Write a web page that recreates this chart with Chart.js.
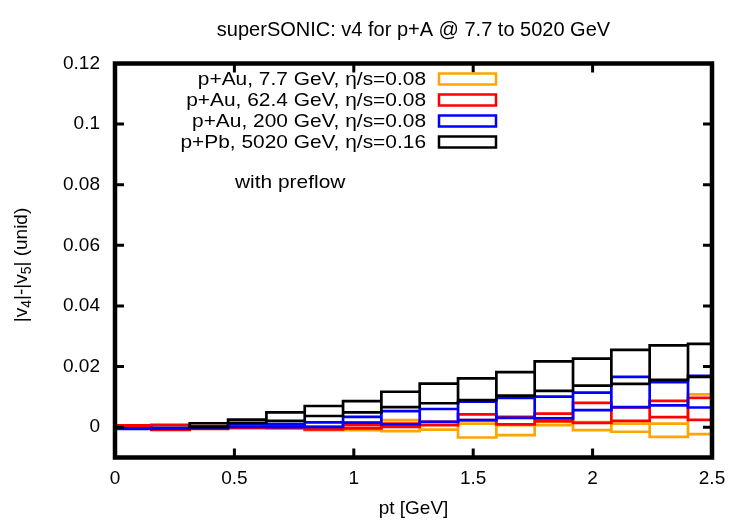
<!DOCTYPE html>
<html>
<head>
<meta charset="utf-8">
<script src="https://cdn.jsdelivr.net/npm/chart.js@4"></script>
<style>
body{margin:0;background:#fff}
canvas{display:block}
</style>
</head>
<body>
<canvas id="v4Chart" width="750" height="525"></canvas>
<script>

/* =====================================================
DATA
===================================================== */

// pt bin edges [GeV]
const binEdges=[-0.008,0.1525,0.313,0.4735,0.634,0.7945,0.955,1.1155,1.276,1.4365,1.597,1.7575,1.918,2.0785,2.239,2.3995,2.56]

const seriesLabels=[
"p+Au, 7.7 GeV, η/s=0.08",
"p+Au, 62.4 GeV, η/s=0.08",
"p+Au, 200 GeV, η/s=0.08",
"p+Pb, 5020 GeV, η/s=0.16"
]
const seriesColors=["#ffa500","#ff0000","#0000ff","#000000"]

// lower / upper edge of each box
const auLow77=[-0.0002,-0.0003,-0.0004,-0.0003,-0.0005,-0.0010,-0.0010,-0.0013,-0.0008,-0.0034,-0.0026,0.0007,-0.0010,-0.0015,-0.0032,-0.0023]
const auHigh77=[0.0002,0.0003,0.0002,0.0002,0.0002,0.0000,0.0015,0.0023,0.0016,0.0012,0.0007,0.0018,0.0017,0.0012,0.0012,0.0108]

const auLow624=[0.0003,-0.0009,-0.0006,-0.0002,-0.0002,-0.0007,-0.0004,0.0001,0.0007,0.0023,0.0009,0.0020,0.0014,0.0021,0.0033,0.0024]
const auHigh624=[0.0006,0.0008,0.0004,0.0003,0.0003,0.0000,0.0007,0.0012,0.0018,0.0042,0.0034,0.0045,0.0080,0.0065,0.0087,0.0097]

const auLow200=[-0.0006,-0.0005,-0.0003,0.0001,0.0000,0.0001,0.0015,0.0009,0.0018,0.0023,0.0031,0.0029,0.0056,0.0066,0.0072,0.0065]
const auHigh200=[-0.0004,-0.0002,0.0002,0.0012,0.0010,0.0016,0.0034,0.0053,0.0060,0.0084,0.0097,0.0101,0.0114,0.0166,0.0149,0.0169]

const pbLow5020=[null,null,0.0000,0.0014,0.0021,0.0037,0.0049,0.0066,0.0079,0.0089,0.0104,0.0120,0.0137,0.0143,0.0156,0.0166]
const pbHigh5020=[null,null,0.0013,0.0025,0.0049,0.0070,0.0086,0.0117,0.0144,0.0161,0.0182,0.0217,0.0226,0.0255,0.0270,0.0275]

const xTicks=[0,0.5,1,1.5,2,2.5]
const xTickLabels=["0","0.5","1","1.5","2","2.5"]
const yTicks=[0,0.02,0.04,0.06,0.08,0.1,0.12]
const yTickLabels=["0","0.02","0.04","0.06","0.08","0.1","0.12"]

const FONT="'Liberation Sans', Arial, sans-serif"
const STRETCH=1.1


/* =====================================================
BOXES -> LINE POINTS
===================================================== */

function boxPoints(low,high){

const pts=[]

low.forEach((lo,i)=>{

const hi=high[i]
if(lo===null || hi===null) return

const x0=binEdges[i]
const x1=binEdges[i+1]

pts.push({x:x0,y:lo},{x:x1,y:lo},{x:x1,y:hi},{x:x0,y:hi},{x:x0,y:lo})
pts.push({x:null,y:null})

})

return pts

}

const lows=[auLow77,auLow624,auLow200,pbLow5020]
const highs=[auHigh77,auHigh624,auHigh200,pbHigh5020]

const datasets=seriesLabels.map((label,i)=>({
label:label,
data:boxPoints(lows[i],highs[i]),
borderColor:seriesColors[i],
backgroundColor:seriesColors[i],
borderWidth:2.7,
borderJoinStyle:"miter",
borderCapStyle:"square",
pointRadius:0,
showLine:true,
fill:false,
tension:0,
order:4-i
}))


/* =====================================================
FRAME, TICKS, LEGEND, LABELS
===================================================== */

// text a bit wider than the font, like the stretched reference
function wideText(ctx,text,x,y,align){
const w=ctx.measureText(text).width*STRETCH
let left=x
if(align==="right") left=x-w
else if(align==="center") left=x-w/2
ctx.save()
ctx.translate(left,y)
ctx.scale(STRETCH,1)
ctx.textAlign="left"
ctx.fillText(text,0,0)
ctx.restore()
}

const framePlugin={
id:"frame",
afterDatasetsDraw(chart){

const {ctx,chartArea:a,scales}=chart
const len=9

ctx.save()
ctx.strokeStyle="#000"
ctx.lineWidth=3

xTicks.forEach(v=>{
const px=scales.x.getPixelForValue(v)
ctx.beginPath()
ctx.moveTo(px,a.bottom);ctx.lineTo(px,a.bottom-len)
ctx.moveTo(px,a.top);ctx.lineTo(px,a.top+len)
ctx.stroke()
})

yTicks.forEach(v=>{
const py=scales.y.getPixelForValue(v)
ctx.beginPath()
ctx.moveTo(a.left,py);ctx.lineTo(a.left+len,py)
ctx.moveTo(a.right,py);ctx.lineTo(a.right-len,py)
ctx.stroke()
})

ctx.lineWidth=4.5
ctx.strokeRect(a.left,a.top,a.right-a.left,a.bottom-a.top)

/* legend, gnuplot style: text then sample box */

ctx.font="19px "+FONT
ctx.textBaseline="middle"
ctx.lineWidth=2.5

chart.data.datasets.forEach((ds,i)=>{
const y=79+i*21
ctx.fillStyle="#000"
wideText(ctx,ds.label,426,y+1,"right")
ctx.strokeStyle=ds.borderColor
ctx.strokeRect(439,y-5.5,57,11)
})

ctx.fillStyle="#000"
wideText(ctx,"with preflow",235,183,"left")

/* y axis title with subscripts */

ctx.translate(22,265)
ctx.rotate(-Math.PI/2)
ctx.textAlign="left"
const parts=[["|v",0],["4",1],["|-|v",0],["5",1],["| (unid)",0]]
let w=0
parts.forEach(p=>{
ctx.font=(p[1]?"14px ":"19px ")+FONT
w+=ctx.measureText(p[0]).width
})
let x=-w/2
parts.forEach(p=>{
ctx.font=(p[1]?"14px ":"19px ")+FONT
ctx.fillText(p[0],x,p[1]?5:0)
x+=ctx.measureText(p[0]).width
})

ctx.restore()

}
}


/* =====================================================
CHART
===================================================== */

Chart.defaults.color="#000"
Chart.defaults.font.family=FONT

new Chart(document.getElementById("v4Chart"),{
type:"scatter",
data:{datasets:datasets},
options:{
responsive:false,
animation:false,
layout:{padding:{left:0,right:38,top:0,bottom:0}},
plugins:{
legend:{display:false},
tooltip:{enabled:false},
title:{
display:true,
fullSize:false,
text:"superSONIC: v4 for p+A @ 7.7 to 5020 GeV",
font:{size:20,weight:"normal"},
padding:{top:18,bottom:21.5}
}
},
scales:{
x:{
type:"linear",
min:0,
max:2.5,
grid:{display:false,drawTicks:false},
border:{display:false},
afterBuildTicks(s){s.ticks=xTicks.map(v=>({value:v}))},
afterFit(s){s.height=67.5},
ticks:{
font:{size:19},
padding:10,
maxRotation:0,
callback:(v,i)=>xTickLabels[i]
},
title:{display:true,text:"pt [GeV]",font:{size:19},padding:{top:0,bottom:5}}
},
y:{
type:"linear",
min:-0.01,
max:0.12,
grid:{display:false,drawTicks:false},
border:{display:false},
afterBuildTicks(s){s.ticks=yTicks.map(v=>({value:v}))},
afterFit(s){s.width=115},
ticks:{
font:{size:19},
padding:15,
callback:(v,i)=>yTickLabels[i]
}
}
}
},
plugins:[framePlugin]
})

</script>
</body>
</html>
